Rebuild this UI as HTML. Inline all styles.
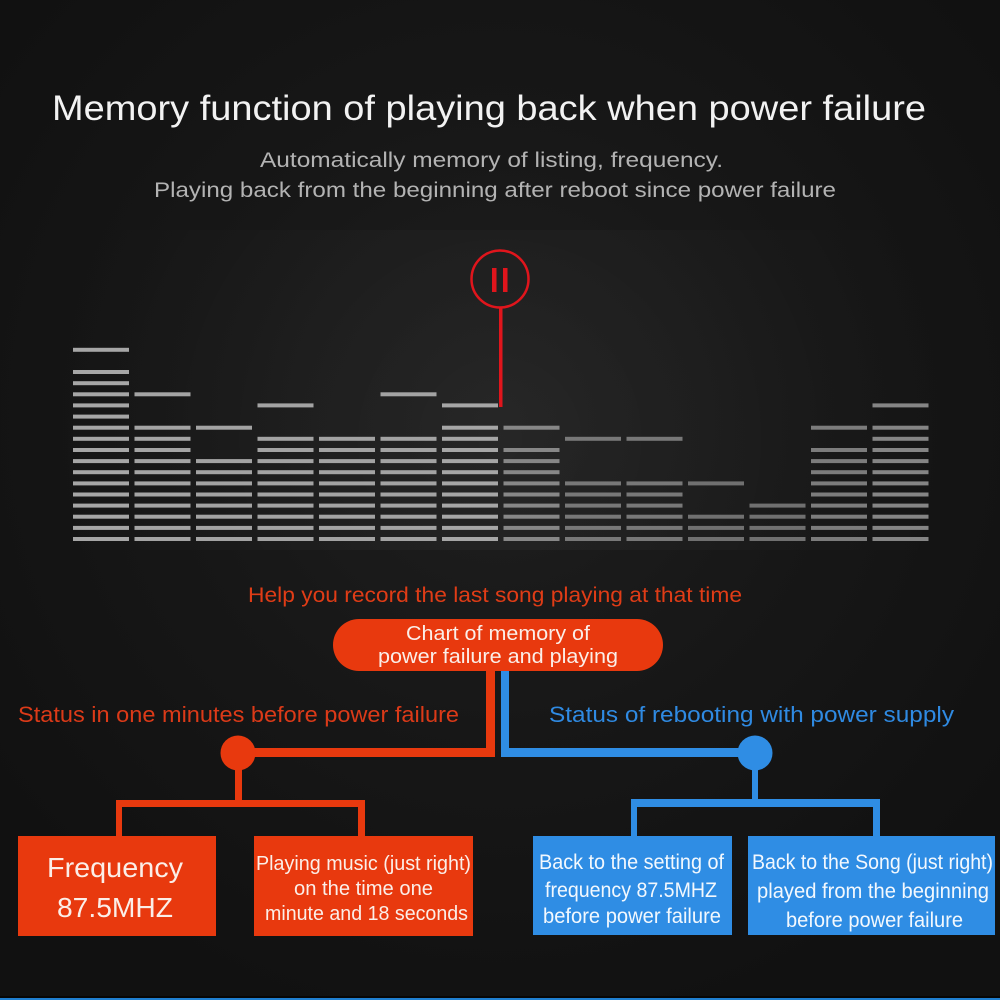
<!DOCTYPE html>
<html><head><meta charset="utf-8">
<style>
html,body{margin:0;padding:0;background:#121212;}
svg{display:block;}
text{font-family:"Liberation Sans",sans-serif;}
</style></head>
<body>
<svg width="1000" height="1000" viewBox="0 0 1000 1000" xmlns="http://www.w3.org/2000/svg">
<defs>
<radialGradient id="bg" cx="500" cy="420" r="620" gradientUnits="userSpaceOnUse">
<stop offset="0" stop-color="#1f1f1f"/>
<stop offset="0.5" stop-color="#171717"/>
<stop offset="1" stop-color="#111111"/>
</radialGradient>
<radialGradient id="eqbg" cx="500" cy="440" r="460" gradientUnits="userSpaceOnUse">
<stop offset="0" stop-color="#ffffff" stop-opacity="0.035"/>
<stop offset="1" stop-color="#ffffff" stop-opacity="0"/>
</radialGradient>
</defs>
<rect width="1000" height="1000" fill="url(#bg)"/>
<rect x="40" y="230" width="920" height="320" fill="url(#eqbg)"/>
<rect x="0" y="996" width="1000" height="2" fill="#070707"/>
<rect x="0" y="998" width="1000" height="2" fill="#1f7fd0"/>

<!-- Title -->
<text x="52" y="120" font-size="35" fill="#f2f2f2" textLength="874" lengthAdjust="spacingAndGlyphs">Memory function of playing back when power failure</text>
<text x="260" y="167" font-size="21" fill="#b3b3b3" textLength="463" lengthAdjust="spacingAndGlyphs">Automatically memory of listing, frequency.</text>
<text x="154" y="197" font-size="21" fill="#b3b3b3" textLength="682" lengthAdjust="spacingAndGlyphs">Playing back from the beginning after reboot since power failure</text>

<!-- Equalizer bars -->
<g id="bars"></g>

<!-- Pause icon -->
<circle cx="500" cy="279" r="28.5" fill="none" stroke="#e0151c" stroke-width="2.5"/>
<rect x="492" y="268" width="4.5" height="24" fill="#e0151c"/>
<rect x="503" y="268" width="4.5" height="24" fill="#e0151c"/>
<rect x="499" y="308" width="3.5" height="99" fill="#e0151c"/>

<!-- Help text -->
<text x="248" y="602" font-size="21" fill="#e03c16" textLength="494" lengthAdjust="spacingAndGlyphs">Help you record the last song playing at that time</text>

<!-- Connectors orange -->
<rect x="486" y="665" width="9" height="92" fill="#e8390e"/>
<rect x="238" y="748" width="257" height="9" fill="#e8390e"/>
<circle cx="238" cy="753" r="17.5" fill="#e8390e"/>
<rect x="235" y="753" width="7" height="54" fill="#e8390e"/>
<rect x="116" y="800" width="249" height="7" fill="#e8390e"/>
<rect x="116" y="800" width="6" height="37" fill="#e8390e"/>
<rect x="358" y="800" width="7" height="37" fill="#e8390e"/>

<!-- Connectors blue -->
<rect x="501" y="665" width="8" height="92" fill="#2f8de4"/>
<rect x="501" y="748" width="254" height="9" fill="#2f8de4"/>
<circle cx="755" cy="753" r="17.5" fill="#2f8de4"/>
<rect x="752" y="753" width="6" height="54" fill="#2f8de4"/>
<rect x="631" y="799" width="249" height="8" fill="#2f8de4"/>
<rect x="631" y="799" width="6" height="38" fill="#2f8de4"/>
<rect x="873" y="799" width="7" height="38" fill="#2f8de4"/>

<!-- Pill -->
<rect x="333" y="619" width="330" height="52" rx="26" fill="#e8390e"/>
<text x="406" y="640" font-size="20" fill="#fbeee8" textLength="184" lengthAdjust="spacingAndGlyphs">Chart of memory of</text>
<text x="378" y="663" font-size="20" fill="#fbeee8" textLength="240" lengthAdjust="spacingAndGlyphs">power failure and playing</text>

<!-- Status labels -->
<text x="18" y="722" font-size="22" fill="#dc3a18" textLength="441" lengthAdjust="spacingAndGlyphs">Status in one minutes before power failure</text>
<text x="549" y="722" font-size="22" fill="#2f8ae2" textLength="405" lengthAdjust="spacingAndGlyphs">Status of rebooting with power supply</text>

<!-- Boxes -->
<rect x="18" y="836" width="198" height="100" fill="#e8390e"/>
<rect x="254" y="836" width="219" height="100" fill="#e8390e"/>
<rect x="533" y="836" width="199" height="99" fill="#2f8de4"/>
<rect x="748" y="836" width="247" height="99" fill="#2f8de4"/>

<text x="47" y="877" font-size="28" fill="#fbeee8" textLength="136" lengthAdjust="spacingAndGlyphs">Frequency</text>
<text x="57" y="917" font-size="28" fill="#fbeee8" textLength="116" lengthAdjust="spacingAndGlyphs">87.5MHZ</text>

<text x="256" y="870" font-size="20" fill="#fbeee8" textLength="215" lengthAdjust="spacingAndGlyphs">Playing music (just right)</text>
<text x="294" y="895" font-size="20" fill="#fbeee8" textLength="139" lengthAdjust="spacingAndGlyphs">on the time one</text>
<text x="265" y="920" font-size="20" fill="#fbeee8" textLength="203" lengthAdjust="spacingAndGlyphs">minute and 18 seconds</text>

<text x="539" y="869" font-size="21" fill="#f2f8fe" textLength="185" lengthAdjust="spacingAndGlyphs">Back to the setting of</text>
<text x="545" y="897" font-size="21" fill="#f2f8fe" textLength="172" lengthAdjust="spacingAndGlyphs">frequency 87.5MHZ</text>
<text x="543" y="923" font-size="21" fill="#f2f8fe" textLength="178" lengthAdjust="spacingAndGlyphs">before power failure</text>

<text x="752" y="869" font-size="21" fill="#f2f8fe" textLength="241" lengthAdjust="spacingAndGlyphs">Back to the Song (just right)</text>
<text x="757" y="898" font-size="21" fill="#f2f8fe" textLength="232" lengthAdjust="spacingAndGlyphs">played from the beginning</text>
<text x="786" y="927" font-size="21" fill="#f2f8fe" textLength="177" lengthAdjust="spacingAndGlyphs">before power failure</text>
</svg>
<script>
(function(){
  var ns="http://www.w3.org/2000/svg";
  var g=document.getElementById("bars");
  var cols=[[15,17,"#a6a6a6"],[10,13,"#a4a4a4"],[7,10,"#a3a3a3"],[9,12,"#a3a3a3"],[9,-1,"#a3a3a3"],[9,13,"#a3a3a3"],[10,12,"#a6a6a6"],
            [8,10,"#878787"],[5,9,"#787878"],[5,9,"#787878"],[2,5,"#707070"],[3,-1,"#707070"],[8,10,"#7c7c7c"],[10,12,"#858585"]];
  for(var i=0;i<cols.length;i++){
    var x=73+61.5*i, c=cols[i];
    var ks=[];
    for(var k=0;k<=c[0];k++) ks.push(k);
    if(c[1]>=0) ks.push(c[1]);
    for(var j=0;j<ks.length;j++){
      var y=539-11.13*ks[j];
      var r=document.createElementNS(ns,"rect");
      r.setAttribute("x",x.toFixed(1));
      r.setAttribute("y",(y-2).toFixed(1));
      r.setAttribute("width","56");
      r.setAttribute("height","4");
      r.setAttribute("fill",c[2]);
      g.appendChild(r);
    }
  }
})();
</script>
</body></html>
